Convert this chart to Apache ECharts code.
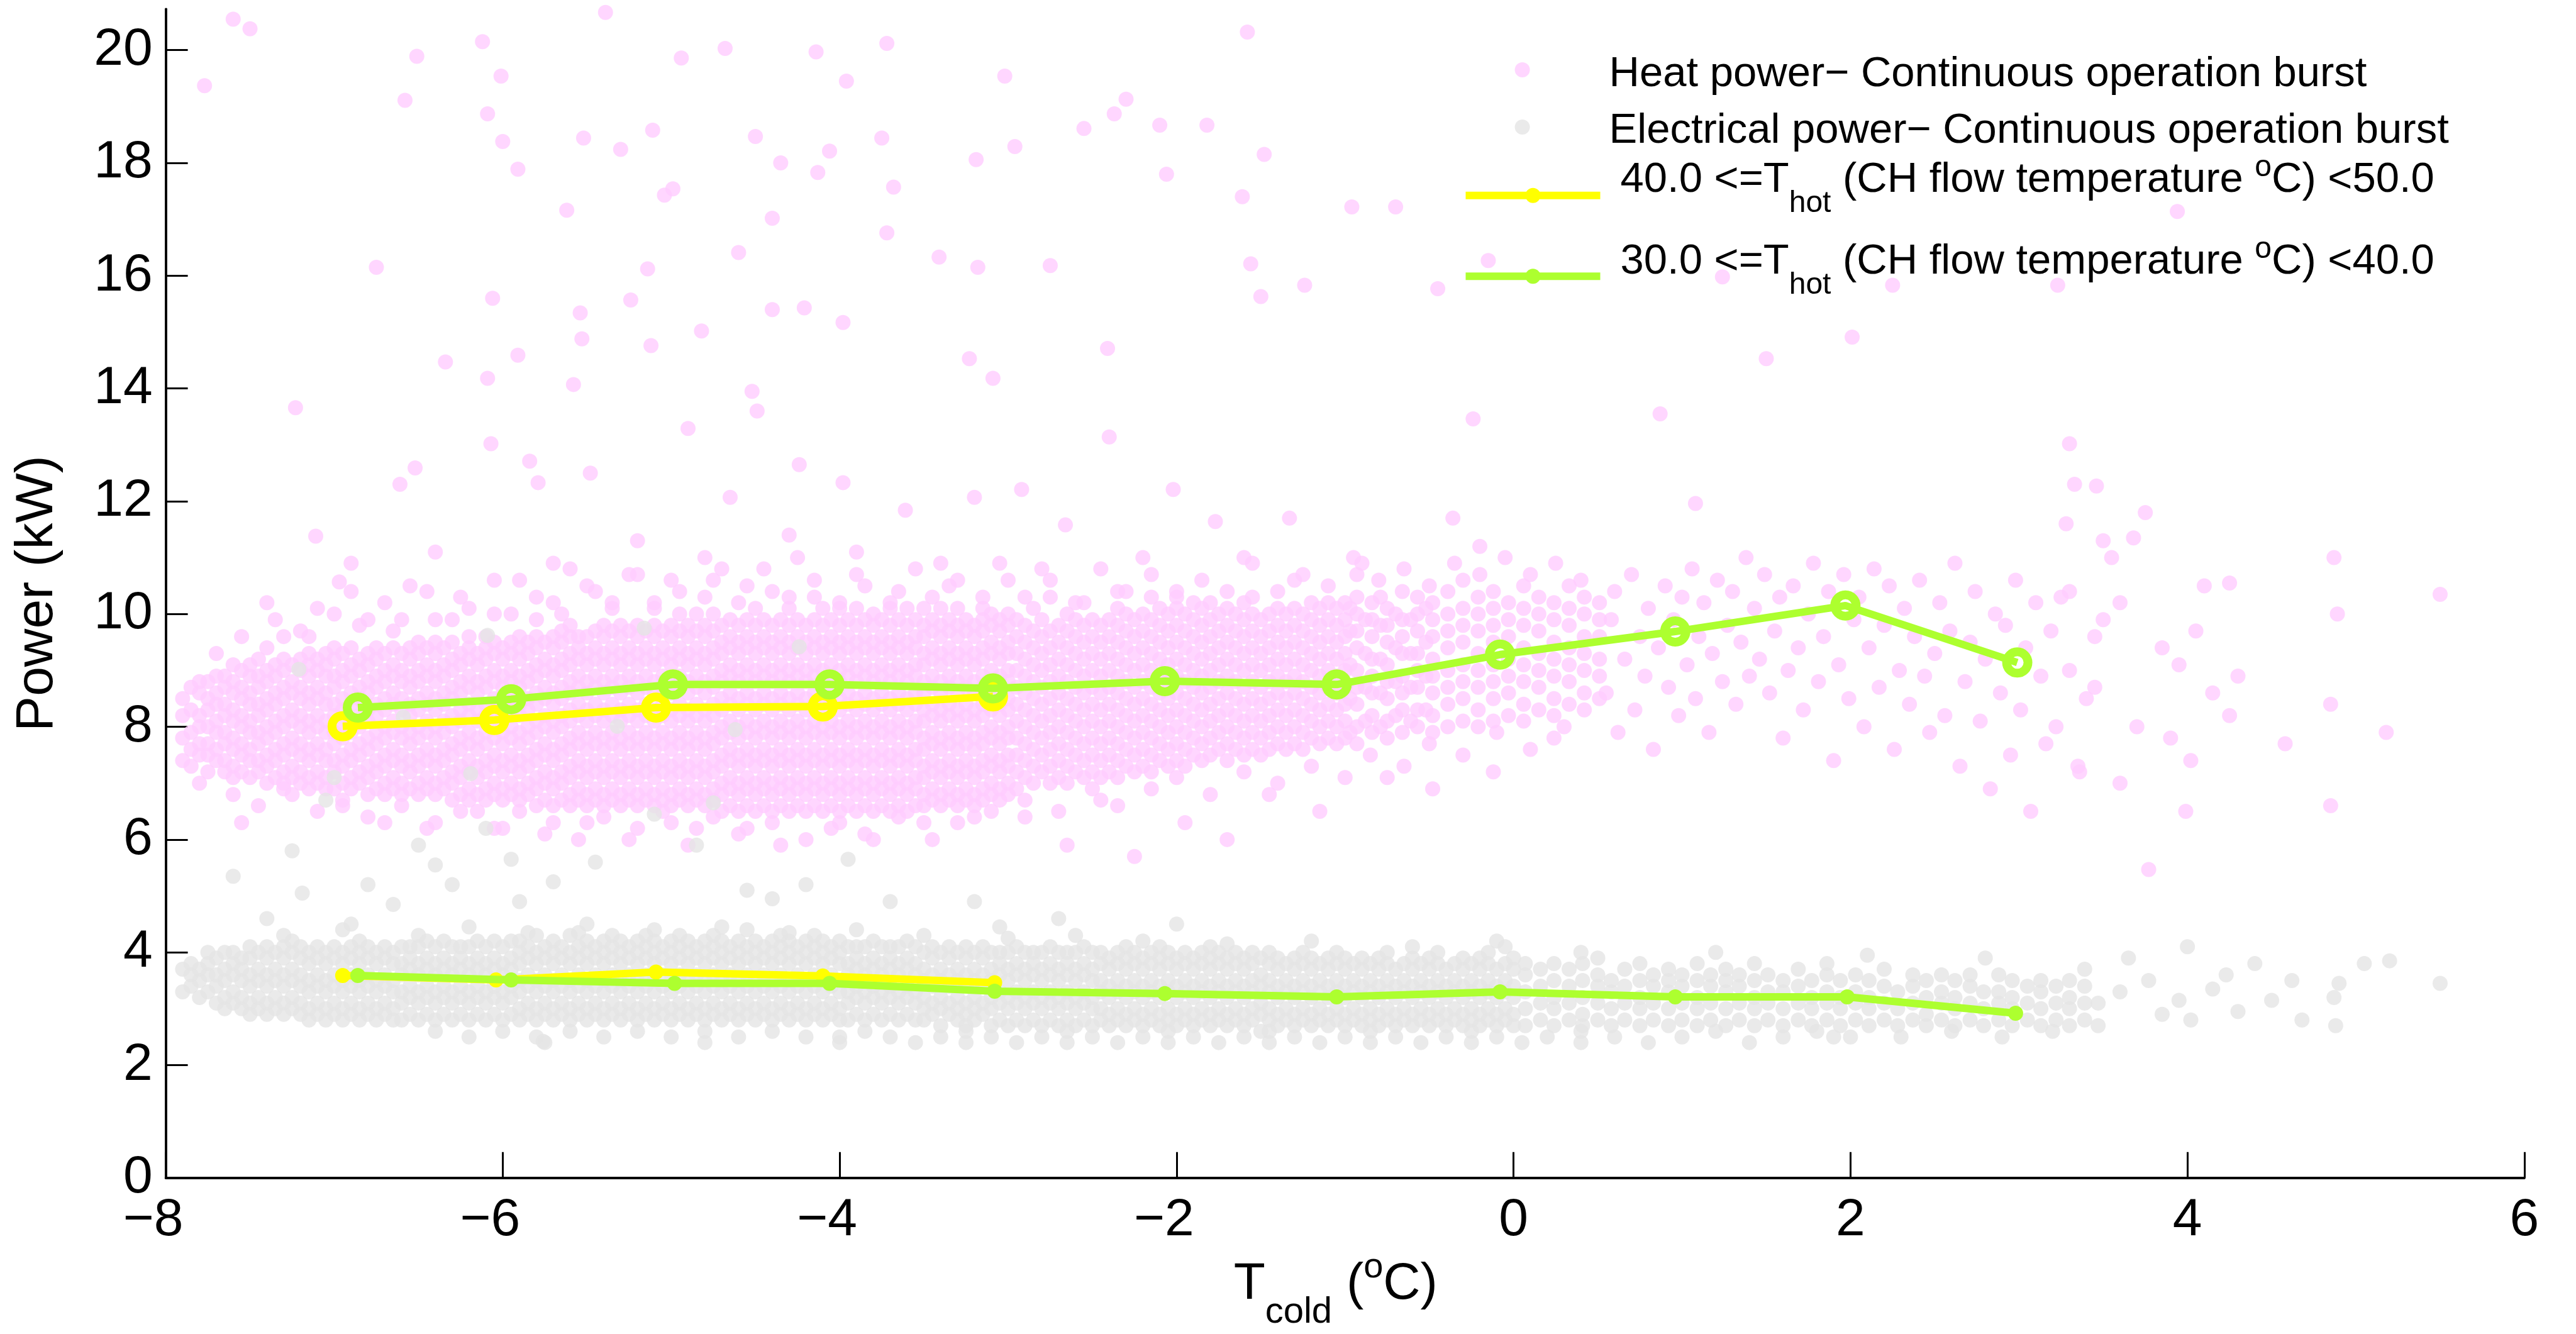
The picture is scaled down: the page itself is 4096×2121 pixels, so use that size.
<!DOCTYPE html>
<html><head><meta charset="utf-8">
<script src="https://cdn.jsdelivr.net/npm/echarts@6/dist/echarts.min.js"></script>
<style>html,body{margin:0;padding:0;background:#fff}#c{width:4096px;height:2121px}</style>
</head><body><div id="c"></div>
<script>
const xTicks = [-8, -6, -4, -2, 0, 2, 4, 6];
const yTicks = [0, 2, 4, 6, 8, 10, 12, 14, 16, 18, 20];

const heatName = 'Heat power\u2212 Continuous operation burst';
const elecName = 'Electrical power\u2212 Continuous operation burst';
const name40 = '40.0 <=Thot (CH flow temperature oC) <50.0';
const name30 = '30.0 <=Thot (CH flow temperature oC) <40.0';

// line series
const heat40X = [-6.95, -6.05, -5.09, -4.10, -3.09];
const heat40Y = [8.01, 8.12, 8.34, 8.36, 8.54];
const elec40X = [-6.95, -6.04, -5.09, -4.10, -3.08];
const elec40Y = [3.59, 3.51, 3.65, 3.58, 3.46];
const heat30X = [-6.86, -5.95, -4.99, -4.06, -3.09, -2.07, -1.05, -0.08, 0.96, 1.97, 2.99];
const heat30Y = [8.34, 8.49, 8.75, 8.75, 8.68, 8.81, 8.75, 9.28, 9.69, 10.15, 9.14];
const elec30X = [-6.86, -5.95, -4.98, -4.06, -3.08, -2.07, -1.05, -0.08, 0.96, 1.98, 2.98];
const elec30Y = [3.59, 3.51, 3.45, 3.45, 3.31, 3.27, 3.21, 3.30, 3.21, 3.21, 2.92];

// heat scatter, dense part: "x y*10 y*10 ..."
const heatDenseCols = [
"-7.90 74 78 82 85","-7.85 73 76 79 83 87","-7.80 75 77 80 82 86 88","-7.75 72 75 77 80 83 85 88","-7.70 74 76 79 81 84 86 89",
"-7.65 72 74 77 79 82 84 87 89","-7.60 71 73 76 78 81 83 86 88 91","-7.55 72 75 77 80 82 85 87 90 63","-7.50 71 74 76 79 81 84 86 89 91",
"-7.45 72 74 77 79 82 84 87 89 92","-7.40 70 73 75 78 80 83 85 88 90 94","-7.35 71 74 76 79 81 84 86 89 91","-7.30 70 72 75 77 80 82 85 87 90 92 96",
"-7.25 71 73 76 78 81 83 86 88 91 68","-7.20 70 72 75 77 80 82 85 87 90 92 97","-7.15 69 71 74 76 79 81 84 86 89 91 93","-7.10 70 72 75 77 80 82 85 87 90 92 101",
"-7.05 69 71 74 76 79 81 84 86 89 91 93","-7.00 69 72 74 77 79 82 84 87 89 92 94","-6.95 70 73 75 78 80 83 85 88 90 93 66","-6.90 69 71 74 76 79 81 84 86 89 91 94 104",
"-6.85 70 72 75 77 80 82 85 87 90 92","-6.80 68 71 73 76 78 81 83 86 88 91 93 99","-6.75 69 72 74 77 79 82 84 87 89 92 94","-6.70 68 70 73 75 78 80 83 85 88 90 93 63",
"-6.65 69 71 74 76 79 81 84 86 89 91 94 97","-6.60 68 70 73 75 78 80 83 85 88 90 93","-6.55 69 72 74 77 79 82 84 87 89 92 94 105","-6.50 68 70 73 75 78 80 83 85 88 90 93 95",
"-6.45 69 71 74 76 79 81 84 86 89 91 94 62","-6.40 68 70 73 75 78 80 83 85 88 90 93 95 99","-6.35 69 71 74 76 79 81 84 86 89 91 94","-6.30 67 70 72 75 77 80 82 85 87 90 92 95",
"-6.25 68 71 73 76 78 81 83 86 88 91 93 103","-6.20 67 69 72 74 77 79 82 84 87 89 92 94 96","-6.15 68 71 73 76 78 81 83 86 88 91 93 65","-6.10 67 69 72 74 77 79 82 84 87 89 92 94 96",
"-6.05 68 70 73 75 78 80 83 85 88 90 93 95 100","-6.00 67 69 72 74 77 79 82 84 87 89 92 94 62","-5.95 68 70 73 75 78 80 83 85 88 90 93 95","-5.90 67 69 72 74 77 79 82 84 87 89 92 94 96 106",
"-5.85 68 70 73 75 78 80 83 85 88 90 93 95","-5.80 66 69 71 74 76 79 81 84 86 89 91 94 96 99","-5.75 67 70 72 75 77 80 82 85 87 90 92 95 61","-5.70 66 69 71 74 76 79 81 84 86 89 91 94 96 102",
"-5.65 67 70 72 75 77 80 82 85 87 90 92 95 97","-5.60 66 68 71 73 76 78 81 83 86 88 91 93 96 98 108","-5.55 67 69 72 74 77 79 82 84 87 89 92 94 96","-5.50 66 68 71 73 76 78 81 83 86 88 91 93 96 63",
"-5.45 67 69 72 74 77 79 82 84 87 89 92 94 97 104","-5.40 66 68 71 73 76 78 81 83 86 88 91 93 96 98","-5.35 67 69 72 74 77 79 82 84 87 89 92 94 97 101","-5.30 66 68 71 73 76 78 81 83 86 88 91 93 96 98",
"-5.25 67 69 72 74 77 79 82 84 87 89 92 94 97 60","-5.20 66 68 71 73 76 78 81 83 86 88 91 93 96 98 107","-5.15 67 69 72 74 77 79 82 84 87 89 92 94 97","-5.10 66 68 71 73 76 78 81 83 86 88 91 93 96 98 102",
"-5.05 67 69 72 74 77 79 82 84 87 89 92 94 97 65","-5.00 66 68 71 73 76 78 81 83 86 88 91 93 96 98 106","-4.95 67 69 72 74 77 79 82 84 87 89 92 94 97 100","-4.90 66 68 71 73 76 78 81 83 86 88 91 93 96 98",
"-4.85 67 69 72 74 77 79 82 84 87 89 92 94 97 62","-4.80 66 68 71 73 76 78 81 83 86 88 91 93 96 98 103","-4.75 67 69 72 74 77 79 82 84 87 89 92 94 97 100","-4.70 65 68 70 73 75 78 80 83 85 88 90 93 95 98 108",
"-4.65 66 69 71 74 76 79 81 84 86 89 91 94 96 99","-4.60 65 68 70 73 75 78 80 83 85 88 90 93 95 98 61","-4.55 66 69 71 74 76 79 81 84 86 89 91 94 96 99 105","-4.50 65 68 70 73 75 78 80 83 85 88 90 93 95 98 101",
"-4.45 66 69 71 74 76 79 81 84 86 89 91 94 96 99","-4.40 65 68 70 73 75 78 80 83 85 88 90 93 95 98 104","-4.35 66 69 71 74 76 79 81 84 86 89 91 94 96 99 59","-4.30 65 68 70 73 75 78 80 83 85 88 90 93 95 98 101",
"-4.25 66 69 71 74 76 79 81 84 86 89 91 94 96 99 110","-4.20 65 68 70 73 75 78 80 83 85 88 90 93 95 98","-4.15 66 69 71 74 76 79 81 84 86 89 91 94 96 99 103","-4.10 65 68 70 73 75 78 80 83 85 88 90 93 95 98 101",
"-4.05 66 69 71 74 76 79 81 84 86 89 91 94 96 99 62","-4.00 65 68 70 73 75 78 80 83 85 88 90 93 95 98 102","-3.95 66 69 71 74 76 79 81 84 86 89 91 94 96 99","-3.90 65 68 70 73 75 78 80 83 85 88 90 93 95 98 101 107",
"-3.85 66 69 71 74 76 79 81 84 86 89 91 94 96 99","-3.80 65 68 70 73 75 78 80 83 85 88 90 93 95 98 100 60","-3.75 66 69 71 74 76 79 81 84 86 89 91 94 96 99","-3.70 65 68 70 73 75 78 80 83 85 88 90 93 95 98 101",
"-3.65 66 69 71 74 76 79 81 84 86 89 91 94 96 99 104","-3.60 65 68 70 73 75 78 80 83 85 88 90 93 95 98 101","-3.55 66 69 71 74 76 79 81 84 86 89 91 94 96 99","-3.50 66 68 71 73 76 78 81 83 86 88 91 93 96 98 101 63",
"-3.45 67 69 72 74 77 79 82 84 87 89 92 94 97 99","-3.40 66 68 71 73 76 78 81 83 86 88 91 93 96 98 101","-3.35 67 69 72 74 77 79 82 84 87 89 92 94 97 99 105","-3.30 66 68 71 73 76 78 81 83 86 88 91 93 96 98 101",
"-3.25 67 69 72 74 77 79 82 84 87 89 92 94 97 99","-3.20 66 68 71 73 76 78 81 83 86 88 91 93 96 98 64","-3.15 67 69 72 74 77 79 82 84 87 89 92 94 97 99 103","-3.10 68 70 73 75 78 80 83 85 88 90 93 95 98 100",
"-3.05 67 69 72 74 77 79 82 84 87 89 92 94 97 99","-3.00 68 70 73 75 78 80 83 85 88 90 93 95 98 100 106"
];
const heatMidCols = [
"-2.95 69 72 75 78 81 84 87 90 93 96 99","-2.90 71 74 77 80 83 86 89 92 95 98 64","-2.85 70 73 76 79 82 85 88 91 94 97 101","-2.80 72 75 78 81 84 87 90 93 96 99",
"-2.75 70 73 76 79 82 85 88 91 94 97 103","-2.70 71 74 77 80 83 86 89 92 95 98","-2.65 70 73 76 79 82 85 88 91 94 97 100 59","-2.60 72 75 78 81 84 87 90 93 96 99",
"-2.55 71 74 77 80 83 86 89 92 95 98 102","-2.50 72 75 78 81 84 87 90 93 96 99","-2.45 71 74 77 80 83 86 89 92 95 98 67","-2.40 72 75 78 81 84 87 90 93 96 99",
"-2.35 71 74 77 80 83 86 89 92 95 98 101 104","-2.30 73 76 79 82 85 88 91 94 97 100","-2.25 72 75 78 81 84 87 90 93 96 99 57","-2.20 73 76 79 82 85 88 91 94 97 100",
"-2.15 72 75 78 81 84 87 90 93 96 99 103","-2.10 74 77 80 83 86 89 92 95 98 101","-2.05 73 76 79 82 85 88 91 94 97 100","-2.00 74 77 80 83 86 89 92 95 98 101 104",
"-1.95 73 76 79 82 85 88 91 94 97 100 63","-1.90 75 78 81 84 87 90 93 96 99 102","-1.85 74 77 80 83 86 89 92 95 98 101","-1.80 75 78 81 84 87 90 93 96 99 102",
"-1.75 76 79 82 85 88 91 94 97 100","-1.70 74 77 80 83 86 89 92 95 98 101 60","-1.65 76 79 82 85 88 91 94 97 100","-1.60 75 78 81 84 87 90 93 96 99 102",
"-1.55 76 79 82 85 88 91 94 97 100 103","-1.50 75 78 81 84 87 90 93 96 99","-1.45 76 79 82 85 88 91 94 97 100 68","-1.40 77 80 83 86 89 92 95 98 101",
"-1.35 76 79 82 85 88 91 94 97 100","-1.30 77 80 83 86 89 92 95 98 101 106","-1.25 76 79 82 85 88 91 94 97 100","-1.20 78 81 84 87 90 93 96 99 102",
"-1.15 77 80 83 86 89 92 95 98 101 65","-1.10 78 81 84 87 90 93 96 99 102","-1.05 77 80 83 86 89 92 95 98 101","-1.00 78 81 84 87 90 93 96 99 102",
"-0.97 79 85 91 97 101","-0.93 77 80 84 87 90 94 97 100 103 107","-0.88 81 87 93 99","-0.84 79 82 86 89 92 96 99 102","-0.79 80 86 92 98 103",
"-0.75 78 81 85 88 91 95 98 101 71","-0.70 82 88 94 100","-0.66 79 83 86 89 93 96 99 104","-0.61 81 87 93 99","-0.57 80 83 87 90 93 97 100 103",
"-0.52 83 89 95 101","-0.48 79 82 86 89 92 96 99 102 69","-0.39 80 84 87 90 94 97 100 104","-0.30 81 85 88 91 95 98 101 106",
"-0.21 80 83 87 90 93 97 100 103","-0.12 81 85 88 91 95 98 101 104 72","-0.03 82 86 89 92 96 99 102","0.06 81 84 88 91 94 98 101 105",
"0.15 83 87 90 93 97 100 103","0.24 82 85 89 92 95 99 102 78","0.33 84 88 91 94 98 101 105","0.42 83 86 90 93 96 100 103","0.51 85 89 92 96 99 102"
];
// ragged edges of the heat band
const heatEdge = [
[-7.7,9.3],[-7.55,9.6],[-7.35,9.9],[-7.15,9.6],[-7.0,10.0],[-6.85,9.8],[-6.7,10.2],[-6.6,9.9],[-6.45,10.4],[-6.3,9.9],[-6.2,10.1],[-6.05,10.6],
[-5.95,10.0],[-5.8,10.3],[-5.65,10.0],[-5.5,10.5],[-5.35,10.2],[-5.25,10.7],[-5.1,10.1],[-4.95,10.4],[-4.85,10.0],[-4.75,10.6],[-4.6,10.2],
[-4.45,10.8],[-4.3,10.3],[-4.15,10.6],[-4.0,10.1],[-3.85,10.5],[-3.7,10.2],[-3.55,10.8],[-3.45,10.3],[-3.3,10.6],[-3.15,10.1],[-3.05,10.9],
[-2.9,10.3],[-2.75,10.6],[-2.6,10.2],[-2.45,10.8],[-2.3,10.4],[-2.15,10.7],[-2.0,10.3],[-1.85,10.6],[-1.7,10.4],[-1.55,10.9],[-1.4,10.4],
[-1.25,10.7],[-1.1,10.5],[-0.95,11.0],[-0.8,10.6],[-0.65,10.8],[-0.5,10.5],[-0.35,10.9],[-0.2,10.7],[-0.05,11.0],[0.1,10.7],[0.25,10.9],[0.4,10.6],
[-7.8,7.0],[-7.6,6.8],[-7.45,6.6],[-7.3,6.9],[-7.1,6.5],[-6.95,6.7],[-6.8,6.4],[-6.6,6.6],[-6.4,6.3],[-6.25,6.5],[-6.05,6.2],[-5.9,6.5],
[-5.7,6.3],[-5.55,6.0],[-5.4,6.4],[-5.2,6.2],[-5.0,6.3],[-4.9,5.9],[-4.75,6.4],[-4.55,6.2],[-4.4,6.3],[-4.2,6.0],[-4.0,6.3],[-3.85,6.1],
[-3.65,6.4],[-3.45,6.0],[-3.3,6.3],[-3.1,6.5],[-2.9,6.7],[-2.7,6.5],[-2.5,6.9],[-2.35,6.6],[-2.15,6.9],[-2.0,7.1],[-1.8,6.8],[-1.6,7.2],
[-1.4,7.0],[-1.2,7.3],[-1.0,7.1],[-0.85,7.5],[-0.65,7.3],[-0.5,7.7],[-0.3,7.5],[-0.1,7.9],[0.1,7.6],[0.3,8.0]
];
const heatSparse = [
[0.55,8.6],[0.58,9.9],[0.6,10.4],[0.62,7.9],[0.66,9.2],[0.7,10.7],[0.72,8.3],[0.75,9.6],[0.78,8.9],[0.8,10.1],[0.83,7.6],[0.86,9.4],
[0.9,10.5],[0.92,8.7],[0.95,9.9],[0.98,8.2],[1.0,10.3],[1.03,9.1],[1.06,10.8],[1.08,8.5],[1.1,9.6],[1.13,10.2],[1.16,7.9],[1.18,9.3],
[1.21,10.6],[1.24,8.8],[1.27,9.8],[1.3,10.4],[1.32,8.4],[1.35,9.5],[1.38,11.0],[1.4,8.9],[1.43,10.1],[1.46,9.2],[1.49,10.7],[1.52,8.6],
[1.55,9.7],[1.58,10.3],[1.6,7.8],[1.63,9.0],[1.66,10.5],[1.69,9.4],[1.72,8.3],[1.75,10.0],[1.78,10.9],[1.81,8.8],[1.84,9.6],[1.87,10.4],
[1.9,7.4],[1.93,9.1],[1.96,10.7],[1.99,8.5],[2.02,9.9],[2.05,10.3],[2.08,8.0],[2.11,9.4],[2.14,10.8],[2.17,8.7],[2.2,9.8],[2.23,10.5],
[2.26,7.6],[2.29,9.0],[2.32,10.1],[2.35,8.4],[2.38,9.6],[2.41,10.6],[2.44,8.9],[2.47,7.9],[2.5,9.3],[2.53,10.2],[2.56,8.2],[2.59,9.7],
[2.62,10.9],[2.65,7.3],[2.68,8.8],[2.71,9.5],[2.74,10.4],[2.77,8.1],[2.8,9.2],[2.83,6.9],[2.86,10.0],[2.89,8.6],[2.92,9.8],[2.95,7.5],
[2.98,10.6],[3.01,8.3],[3.04,9.4],[3.07,6.5],[3.1,10.2],[3.13,8.9],[3.16,7.7],[3.19,9.7],[3.22,8.0],[3.25,10.3],[3.28,11.6],[3.3,9.0],
[3.33,12.3],[3.36,7.2],[3.4,8.5],[3.45,9.6],[3.5,11.3],
[3.6,10.2],[3.75,11.8],[3.55,11.0],[3.85,9.4],[3.95,9.1],[4.02,7.4],[3.99,6.5],[3.77,5.47],[3.6,7.0],[4.25,10.55],[4.1,10.5],[4.25,8.2],
[4.15,8.6],[4.58,7.7],[4.87,11.0],[4.89,10.0],[4.85,6.6],[4.85,8.4],[5.18,7.9],[5.5,10.35],[3.7,8.0],[3.45,8.7],[3.5,9.9],[4.05,9.7],
[3.9,7.8],[4.3,8.9],[3.35,7.3],[3.3,10.4]
];
const heatOutliers = [
[-7.77,19.37],[-7.60,20.55],[-7.50,20.38],[-7.23,13.66],[-7.11,11.38],[-6.97,10.57],[-6.75,16.15],[-6.58,19.11],[-6.51,19.89],[-6.61,12.30],
[-6.52,12.59],[-6.34,14.47],[-6.12,20.15],[-6.09,18.87],[-6.06,15.60],[-6.09,14.18],[-6.07,13.02],[-6.01,19.54],[-6.00,18.38],[-5.91,17.89],
[-5.91,14.59],[-5.84,12.71],[-5.79,12.33],[-5.62,17.16],[-5.54,15.34],[-5.53,14.88],[-5.58,14.07],[-5.52,18.44],[-5.48,12.50],[-5.39,20.67],
[-5.30,18.24],[-5.24,15.57],[-5.14,16.12],[-5.12,14.76],[-5.11,18.58],[-5.04,17.43],[-4.99,17.54],[-4.94,19.86],[-4.90,13.29],[-4.82,15.02],
[-4.68,20.03],[-4.65,12.07],[-4.60,16.41],[-4.52,13.95],[-4.50,18.47],[-4.49,13.60],[-4.40,17.02],[-4.40,15.40],[-4.35,18.00],[-4.24,12.65],
[-4.21,15.43],[-4.14,19.97],[-4.13,17.83],[-4.06,18.21],[-3.98,15.17],[-3.98,12.33],[-3.96,19.45],[-3.75,18.44],[-3.72,20.12],[-3.72,16.76],
[-3.68,17.57],[-3.61,11.84],[-3.41,16.33],[-3.23,14.53],[-3.20,12.07],[-3.19,18.06],[-3.18,16.15],[-3.09,14.18],[-3.02,19.54],[-2.96,18.29],
[-2.92,12.21],[-2.75,16.18],[-2.66,11.58],[-2.55,18.61],[-2.41,14.71],[-2.40,13.14],[-2.37,18.87],[-2.30,19.13],[-2.10,18.67],[-2.06,17.80],
[-2.02,12.21],[-1.82,18.67],[-1.77,11.64],[-1.61,17.40],[-1.58,20.32],[-1.56,16.21],[-1.50,15.63],[-1.48,18.15],[-1.33,11.70],[-1.24,15.83],
[-0.96,17.22],[-0.70,17.22],[-0.45,15.77],[-0.36,11.70],[-0.24,13.46],[-0.15,16.27],[0.87,13.55],[1.08,11.96],[1.24,15.98],[1.50,14.53],
[2.01,14.91],[2.25,15.83],[3.23,15.83],[3.30,13.02],[3.46,12.27],[3.94,17.14],[3.68,11.35],
[-7.4,10.2],[-6.9,10.9],[-6.4,11.1],[-5.7,10.9],[-5.2,11.3],[-4.8,11.0],[-4.3,11.4],[-3.9,11.1],[-3.4,10.9],[-2.8,10.8],[-2.2,11.0],[-1.6,11.0],[-0.9,10.9],[-0.2,11.2]
];

// electrical scatter
const elecDenseCols = [
"-7.90 33 37","-7.85 34 36 38","-7.80 32 35 37","-7.75 33 36 38 40","-7.70 31 34 36 39","-7.65 30 32 35 37 40","-7.60 31 33 36 38 40",
"-7.55 30 32 35 37 39","-7.50 29 31 34 36 39 41","-7.45 30 32 35 37 40","-7.40 29 31 34 36 39 41","-7.35 30 32 35 37 40","-7.30 29 31 34 36 39 41",
"-7.25 30 32 35 37 40 42","-7.20 29 31 34 36 39 41","-7.15 28 30 33 35 38 40","-7.10 29 31 34 36 39 41","-7.05 28 30 33 35 38 40","-7.00 29 31 34 36 39 41",
"-6.95 28 30 33 35 38 40","-6.90 29 31 34 36 39 41","-6.85 28 30 33 35 38 40 42","-6.80 29 31 34 36 39 41","-6.75 28 30 33 35 38 40","-6.70 29 31 34 36 39 41",
"-6.65 28 30 33 35 38 40","-6.60 28 31 33 36 38 41","-6.55 29 32 34 37 39 41","-6.50 28 31 33 36 38 41","-6.45 29 32 34 37 39 42","-6.40 28 31 33 36 38 41",
"-6.35 29 32 34 37 39 42","-6.30 28 31 33 36 38 41","-6.25 29 32 34 37 39 41","-6.20 28 31 33 36 38 41","-6.15 29 32 34 37 39 42","-6.10 28 31 33 36 38 41",
"-6.05 29 32 34 37 39 42","-6.00 28 31 33 36 38 41","-5.95 29 32 34 37 39 42","-5.90 28 30 33 35 38 40 42","-5.85 29 31 34 36 39 41","-5.80 28 30 33 35 38 40 43",
"-5.75 29 31 34 36 39 41 24","-5.70 28 30 33 35 38 40 42","-5.65 29 31 34 36 39 41","-5.60 28 30 33 35 38 40 43","-5.55 29 31 34 36 39 41","-5.50 28 30 33 35 38 40 42",
"-5.45 29 31 34 36 39 41","-5.40 28 30 33 35 38 40 42","-5.35 29 31 34 36 39 41 43","-5.30 28 30 33 35 38 40 42","-5.25 29 31 34 36 39 41","-5.20 28 30 33 35 38 40 42",
"-5.15 29 31 34 36 39 41 43","-5.10 28 30 33 35 38 40 42","-5.05 29 31 34 36 39 41","-5.00 28 30 33 35 38 40 42","-4.95 29 31 34 36 39 41 43","-4.90 28 30 33 35 38 40 42",
"-4.85 29 31 34 36 39 41","-4.80 28 30 33 35 38 40 42","-4.75 29 31 34 36 39 41 43","-4.70 28 30 33 35 38 40 42","-4.65 29 31 34 36 39 41","-4.60 28 30 33 35 38 40 42",
"-4.55 29 31 34 36 39 41 44","-4.50 28 30 33 35 38 40 42","-4.45 29 31 34 36 39 41","-4.40 28 30 33 35 38 40 42","-4.35 29 31 34 36 39 41 43","-4.30 28 30 33 35 38 40 42",
"-4.25 29 31 34 36 39 41","-4.20 28 30 33 35 38 40 42","-4.15 29 31 34 36 39 41 43","-4.10 28 30 33 35 38 40 42","-4.05 29 31 34 36 39 41","-4.00 28 30 33 35 38 40 42",
"-3.95 28 31 33 36 38 41","-3.90 29 32 34 37 39 41","-3.85 28 31 33 36 38 41","-3.80 29 32 34 37 39 42","-3.75 28 31 33 36 38 41","-3.70 29 32 34 37 39 41",
"-3.65 28 31 33 36 38 41","-3.60 29 32 34 37 39 42","-3.55 28 31 33 36 38 41","-3.50 28 30 32 35 37 40","-3.45 29 31 34 36 39 41","-3.40 27 30 32 35 37 40",
"-3.35 29 31 34 36 39 41","-3.30 28 30 32 35 37 40","-3.25 27 29 31 34 36 39 41","-3.20 28 30 32 35 37 40","-3.15 29 31 34 36 39 41","-3.10 27 30 32 35 37 40",
"-3.05 28 31 33 36 38 40","-3.00 27 30 32 35 37 40","-2.95 28 31 33 36 38 41","-2.90 27 30 32 35 37 40","-2.85 28 31 33 36 38 40","-2.80 27 30 32 35 37 40",
"-2.75 28 31 33 36 38 41","-2.70 27 30 32 35 37 40","-2.65 28 31 33 36 38 40","-2.60 27 30 32 35 37 40","-2.55 28 31 33 36 38 41","-2.50 27 30 32 35 37 40",
"-2.45 28 30 33 35 38 40","-2.40 27 29 32 34 37 39","-2.35 28 30 33 35 38 40","-2.30 27 29 32 34 37 39 41","-2.25 28 30 33 35 38 40","-2.20 27 29 32 34 37 39",
"-2.15 28 30 33 35 38 40","-2.10 27 29 32 34 37 39 41","-2.05 28 30 33 35 38 40","-2.00 27 29 32 34 37 39","-1.95 28 30 33 35 38 40","-1.90 27 29 32 34 37 39",
"-1.85 28 30 33 35 38 40","-1.80 27 29 32 34 37 39 41","-1.75 28 30 33 35 38 40","-1.70 27 29 32 34 37 39","-1.65 28 30 33 35 38 40","-1.60 27 29 32 34 37 39",
"-1.55 28 30 33 35 38 40","-1.50 26 29 31 34 36 39","-1.45 28 30 33 35 38 40","-1.40 27 29 32 34 37 39","-1.35 28 30 33 35 38","-1.30 27 29 32 34 37 39",
"-1.25 28 30 33 35 38 40","-1.20 27 29 32 34 37 39","-1.15 28 30 33 35 38","-1.10 27 29 32 34 37 39","-1.05 28 30 33 35 38 40","-1.00 27 29 32 34 37 39",
"-0.95 28 30 33 35 38","-0.90 27 29 32 34 37 39","-0.85 28 30 33 35 38","-0.80 27 29 32 34 37 39","-0.75 28 30 33 35 38 40","-0.70 27 29 32 34 37",
"-0.65 28 30 33 35 38","-0.60 27 29 32 34 37 39","-0.55 28 30 33 35 38","-0.50 27 29 32 34 37 39","-0.45 28 30 33 35 38 40","-0.40 27 29 32 34 37",
"-0.35 28 30 33 35 38","-0.30 27 29 32 34 37 39","-0.25 28 30 33 35 38","-0.20 27 29 32 34 37 39","-0.15 28 30 33 35 38 40","-0.10 27 29 32 34 37",
"-0.05 28 30 33 35 38 41","0.00 27 29 32 34 37 39"
];
const elecMidCols = [
"0.07 27 30 33 36 38","0.16 28 31 34 37","0.24 27 30 32 35 38","0.33 28 31 34 37","0.41 27 29 32 35 38","0.50 28 31 34 36 39","0.58 27 30 33 35",
"0.66 28 31 34 37","0.75 27 30 32 35 38","0.83 28 31 34 36","0.92 27 30 33 35 37","1.00 28 31 34 36","1.09 27 30 32 35 38","1.17 28 31 34 36",
"1.26 27 30 33 35 37","1.34 28 31 34 36","1.43 27 30 32 35 38","1.51 28 31 33 36","1.60 27 30 33 35","1.69 28 31 34 37","1.77 27 30 32 35",
"1.86 28 31 33 36 38","1.94 27 30 32 35","2.03 28 31 33 36","2.11 27 30 32 35","2.20 28 31 34 37","2.28 27 30 33","2.37 28 31 34 36",
"2.45 27 29 32 35","2.54 28 31 33 36","2.62 27 30 32 35","2.71 28 31 34 36","2.79 27 30 33","2.88 28 31 33 36","2.96 27 30 32 35",
"3.05 28 31 34","3.13 27 30 33 35","3.22 28 31 34","3.30 27 30 32 35","3.39 28 31 34 37","3.47 27 31"
];
// lower fringe of the electrical band
const elecLowCols = [
"-6.40 26","-6.20 25","-6.00 26","-5.80 25","-5.60 26","-5.40 25","-5.20 26","-5.00 25","-4.80 26 24","-4.60 25","-4.40 26","-4.20 25",
"-4.00 25 24","-3.85 26","-3.70 25","-3.55 24","-3.40 25","-3.25 26 24","-3.10 25","-2.95 24","-2.80 25","-2.65 26 24","-2.50 25",
"-2.35 24","-2.20 25","-2.05 26 24","-1.90 25","-1.75 24","-1.60 25","-1.45 26 24","-1.30 25","-1.15 24","-1.00 25","-0.85 26 24",
"-0.70 25","-0.55 24","-0.40 25","-0.25 26 24","-0.10 25","0.05 24","0.20 25","0.40 26 24","0.60 25","0.80 24","1.00 25","1.20 26",
"1.40 24","1.60 25","1.80 26","2.00 25","2.30 25","2.60 26","2.90 25","3.20 26"
];
const elecSparse = [
[-7.25,5.8],[-7.19,5.05],[-7.05,6.7],[-7.0,7.1],[-6.8,5.2],[-6.65,4.85],[-6.5,5.9],[-6.4,5.55],[-6.3,5.2],[-6.1,6.2],[-5.95,5.65],[-5.9,4.9],
[-5.7,5.25],[-5.55,4.35],[-5.45,5.6],[-5.1,6.45],[-4.85,5.9],[-4.75,6.65],[-4.55,5.1],[-4.4,4.95],[-4.2,5.2],[-3.95,5.65],[-3.7,4.9],[-3.2,4.9],
[-3.05,4.45],[-2.7,4.6],[-2.0,4.5],[-6.9,4.5],[-7.4,4.6],[-7.6,5.35],
[-6.09,9.62],[-5.16,9.75],[-4.24,9.42],[-6.59,8.17],[-5.32,8.01],[-4.62,7.95],[-7.21,9.02],[-6.19,7.17],
[-5.76,2.42],[1.9,2.5],
[-7.3,4.3],[-6.95,4.4],[-6.5,4.3],[-6.2,4.45],[-5.85,4.35],[-5.5,4.5],[-5.1,4.4],[-4.7,4.45],[-4.3,4.35],[-3.9,4.4],[-3.5,4.3],[-3.0,4.25],
[-2.6,4.3],[-2.2,4.2],[-1.7,4.15],[-1.2,4.2],[-0.6,4.1],[-0.1,4.2],[0.4,4.0],[1.2,4.0],[2.1,3.95],[2.8,3.9],
[3.6,3.3],[3.77,3.5],[3.95,3.15],[4.02,2.8],[4.0,4.1],[4.23,3.6],[4.3,2.95],[4.5,3.15],[4.62,3.5],[4.68,2.8],[4.87,3.2],[4.88,2.7],
[4.9,3.45],[5.05,3.8],[5.5,3.45],[4.15,3.35],[3.85,2.9],[4.4,3.8],[3.65,3.9],[5.2,3.85]
];

function parseCols(cols) {
  const out = [];
  cols.forEach(s => {
    const p = s.trim().split(/\s+/).map(Number);
    for (let i = 1; i < p.length; i++) out.push([p[0], p[i] / 10]);
  });
  return out;
}
const zip = (xs, ys) => xs.map((x, i) => [x, ys[i]]);
const heatData = parseCols(heatDenseCols).concat(parseCols(heatMidCols), heatEdge, heatSparse, heatOutliers);
const elecData = parseCols(elecDenseCols).concat(parseCols(elecMidCols), parseCols(elecLowCols), elecSparse);

const FONT = "'Liberation Sans', Arial, Helvetica, sans-serif";
const PINK = '#ffccff', GRAY = '#e5e5e5', YEL = '#ffff00', GRN = '#adff2f';

const legendRich = {
  a: {fontSize: 67, fontFamily: FONT, color: '#000', verticalAlign: 'top', height: 88.2},
  b: {fontSize: 48, fontFamily: FONT, color: '#000', verticalAlign: 'top', height: 162.6},
  c: {fontSize: 48, fontFamily: FONT, color: '#000', verticalAlign: 'top', height: 48}
};
function lineLegendFmt(lo, hi) {
  return '{a|' + lo + ' <=T}{b|hot}{a| (CH flow temperature }{c|o}{a|C) <' + hi + '}';
}
function scatterLegend(name, top, padTop) {
  return {
    data: [name], left: 2408.6, top: top, padding: 0, itemWidth: 40, itemHeight: 24, itemGap: 0,
    icon: 'circle', selectedMode: false, z: 6,
    formatter: n => '{s|' + n + '}',
    textStyle: {fontSize: 67, fontFamily: FONT, color: '#000', padding: [padTop, 0, 0, 113],
      rich: {s: {fontSize: 67, fontFamily: FONT, color: '#000', height: 67}}}
  };
}
function lineLegend(name, top, padTop, lo, hi) {
  return {
    data: [name], left: 2324.5, top: top, padding: 0, itemWidth: 214, itemHeight: 30, itemGap: 0,
    selectedMode: false, z: 6, lineStyle: {width: 12},
    formatter: () => lineLegendFmt(lo, hi),
    textStyle: {fontSize: 67, fontFamily: FONT, color: '#000', padding: [padTop, 0, 0, 27], rich: legendRich}
  };
}

const chart = echarts.init(document.getElementById('c'), null, {renderer: 'canvas'});
chart.setOption({
  animation: false,
  backgroundColor: '#fff',
  grid: {left: 263.6, right: 82.1, top: 14.3, bottom: 232, containLabel: false},
  xAxis: {
    type: 'value', min: -8, max: 6, interval: 2,
    axisLine: {onZero: false, lineStyle: {color: '#000', width: 3.8}},
    axisTick: {inside: true, length: 41, customValues: xTicks, lineStyle: {color: '#000', width: 3}},
    splitLine: {show: false},
    axisLabel: {
      customValues: xTicks, margin: 26, color: '#000', fontSize: 84, fontFamily: FONT,
      formatter: v => v < 0 ? '{n|\u2212' + Math.abs(v) + '}' : '{p|' + v + '}',
      rich: {
        n: {fontSize: 84, fontFamily: FONT, color: '#000', padding: [0, 40, 0, 0]},
        p: {fontSize: 84, fontFamily: FONT, color: '#000'}
      }
    },
    name: '{a|T}{b|cold}{a| (}{c|o}{a|C)}', nameLocation: 'middle', nameGap: 110.5,
    nameTextStyle: {
      padding: [0, 30, 0, 0],
      rich: {
        a: {fontSize: 82, fontFamily: FONT, color: '#000', verticalAlign: 'top', height: 110},
        b: {fontSize: 58, fontFamily: FONT, color: '#000', verticalAlign: 'top', height: 198.6},
        c: {fontSize: 56, fontFamily: FONT, color: '#000', verticalAlign: 'top', height: 56}
      }
    }
  },
  yAxis: {
    type: 'value', min: 0, max: 20.73, interval: 2,
    axisLine: {onZero: false, lineStyle: {color: '#000', width: 3.8}},
    axisTick: {inside: true, length: 35, customValues: yTicks, lineStyle: {color: '#000', width: 3}},
    splitLine: {show: false},
    axisLabel: {customValues: yTicks, margin: 21, color: '#000', fontSize: 84, fontFamily: FONT},
    name: 'Power (kW)', nameLocation: 'middle', nameGap: 162,
    nameTextStyle: {fontSize: 84, fontFamily: FONT, color: '#000'}
  },
  legend: [
    scatterLegend(heatName, 84.8, 14.4),
    scatterLegend(elecName, 175.5, 14),
    lineLegend(name40, 242.4, 26, '40.0', '50.0'),
    lineLegend(name30, 372.4, 29, '30.0', '40.0')
  ],
  series: [
    {name: heatName, type: 'scatter', data: heatData, symbol: 'circle', symbolSize: 24, large: false, silent: true,
     itemStyle: {color: PINK}, z: 2},
    {name: elecName, type: 'scatter', data: elecData, symbol: 'circle', symbolSize: 24, large: false, silent: true,
     itemStyle: {color: GRAY}, z: 3},
    {name: name40, type: 'line', data: zip(elec40X, elec40Y), symbol: 'circle', symbolSize: 24, silent: true,
     itemStyle: {color: YEL}, lineStyle: {color: YEL, width: 12}, z: 4},
    {name: name40, type: 'line', data: zip(heat40X, heat40Y), symbol: 'circle', symbolSize: 34, silent: true,
     itemStyle: {color: 'rgba(0,0,0,0)', borderColor: YEL, borderWidth: 14}, lineStyle: {color: YEL, width: 12}, z: 4},
    {name: name30, type: 'line', data: zip(elec30X, elec30Y), symbol: 'circle', symbolSize: 24, silent: true,
     itemStyle: {color: GRN}, lineStyle: {color: GRN, width: 12}, z: 5},
    {name: name30, type: 'line', data: zip(heat30X, heat30Y), symbol: 'circle', symbolSize: 34, silent: true,
     itemStyle: {color: 'rgba(0,0,0,0)', borderColor: GRN, borderWidth: 14}, lineStyle: {color: GRN, width: 12}, z: 5}
  ]
});
</script>
</body></html>
